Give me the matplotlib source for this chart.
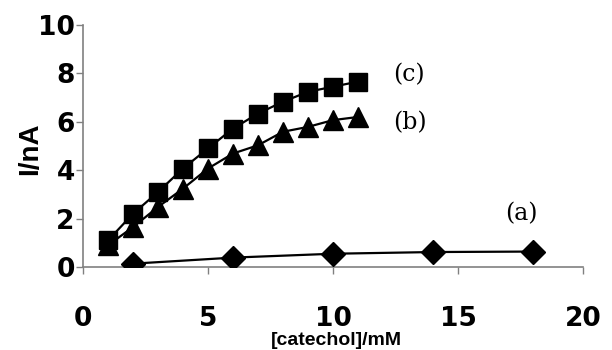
import numpy as np
import matplotlib
matplotlib.use("Agg")
import matplotlib.pyplot as plt

# data
x_a = [2, 6, 10, 14, 18]
y_a = [0.14, 0.39, 0.55, 0.62, 0.64]

x_b = [1, 2, 3, 4, 5, 6, 7, 8, 9, 10, 11]
y_b = [0.9, 1.65, 2.48, 3.24, 4.07, 4.69, 5.03, 5.59, 5.79, 6.07, 6.2]

x_c = [1, 2, 3, 4, 5, 6, 7, 8, 9, 10, 11]
y_c = [1.1, 2.2, 3.1, 4.07, 4.9, 5.72, 6.34, 6.83, 7.24, 7.45, 7.66]

xticks = [0, 5, 10, 15, 20]
yticks = [0, 2, 4, 6, 8, 10]

fig = plt.figure(figsize=(6.12, 3.5), dpi=100)
ax = fig.add_axes([0.1356, 0.237, 0.817, 0.6916])

ax.plot(x_a, y_a, color="black", lw=1.6, marker="D", ms=12, zorder=3)
ax.plot(x_b, y_b, color="black", lw=1.6, marker="^", ms=14, zorder=3)
ax.plot(x_c, y_c, color="black", lw=1.6, marker="s", ms=13.5, zorder=4)

ax.set_xlim(0, 20)
ax.set_ylim(0, 10)
ax.set_xticks(xticks)
ax.set_yticks(yticks)
ax.set_xticklabels([str(t) for t in xticks], fontsize=19, fontweight="bold")
ax.set_yticklabels([str(t) for t in yticks], fontsize=19, fontweight="bold")
ax.tick_params(axis="x", direction="out", length=5, width=1, color="#808080", pad=23)
ax.tick_params(axis="y", direction="out", length=5, width=1, color="#808080", pad=1)

for s in ["top", "right"]:
    ax.spines[s].set_visible(False)
for s in ["left", "bottom"]:
    ax.spines[s].set_color("#808080")
    ax.spines[s].set_linewidth(1.2)

ax.text(12.4, 7.95, "(c)", fontsize=17, family="DejaVu Serif", va="center")
ax.text(12.4, 5.95, "(b)", fontsize=17, family="DejaVu Serif", va="center")
ax.text(16.9, 2.2, "(a)", fontsize=17, family="DejaVu Serif", va="center")

fig.text(0.549, 0.028, "[catechol]/mM", fontsize=14, fontweight="bold",
         ha="center", va="center", family="Liberation Sans")
fig.text(0.05, 0.575, "I/nA", fontsize=20, fontweight="bold", rotation=90,
         ha="center", va="center", family="Liberation Sans")

fig.savefig("out.png", dpi=100)
